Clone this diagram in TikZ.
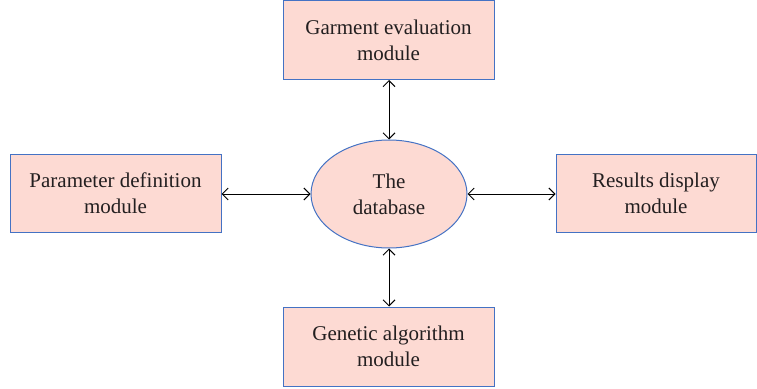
\documentclass[tikz,border=0pt]{standalone}
\usepackage{fontspec}
\setmainfont{Liberation Serif}
\usetikzlibrary{arrows.meta,shapes.geometric}
\definecolor{boxfill}{RGB}{253,218,211}
\definecolor{boxline}{RGB}{68,114,196}
\definecolor{txt}{RGB}{35,31,32}
\begin{document}
\begin{tikzpicture}[x=1pt,y=-1pt,
  modbox/.style={draw=boxline,fill=boxfill,line width=1pt,align=center,text=txt,
    font=\fontsize{21}{26}\selectfont,inner sep=0pt},
  conn/.style={{Straight Barb[length=6pt,width=12pt]}-{Straight Barb[length=6pt,width=12pt]},line width=1pt,black}]
\useasboundingbox (0,0) rectangle (757,388);
\node[modbox,minimum width=211pt,minimum height=79pt] (top) at (388.5,40) {Garment evaluation\\module};
\node[modbox,minimum width=211pt,minimum height=79pt] (bot) at (388.5,346.5) {Genetic algorithm\\module};
\node[modbox,minimum width=211pt,minimum height=78pt] (left) at (115.5,193) {Parameter definition\\module};
\node[modbox,minimum width=200pt,minimum height=78pt] (right) at (656,193) {Results display\\module};
\node[modbox,ellipse,minimum width=156pt,minimum height=108pt] (db) at (389,194) {The\\database};
\draw[conn] (db.north) -- (db.north |- top.south);
\draw[conn] (db.south) -- (db.south |- bot.north);
\coordinate (lA) at ([yshift=-1pt]left.east);
\draw[conn] (lA) -- (db.west |- lA);
\coordinate (rA) at ([yshift=-1pt]right.west);
\draw[conn] (rA) -- (db.east |- rA);
\end{tikzpicture}
\end{document}
